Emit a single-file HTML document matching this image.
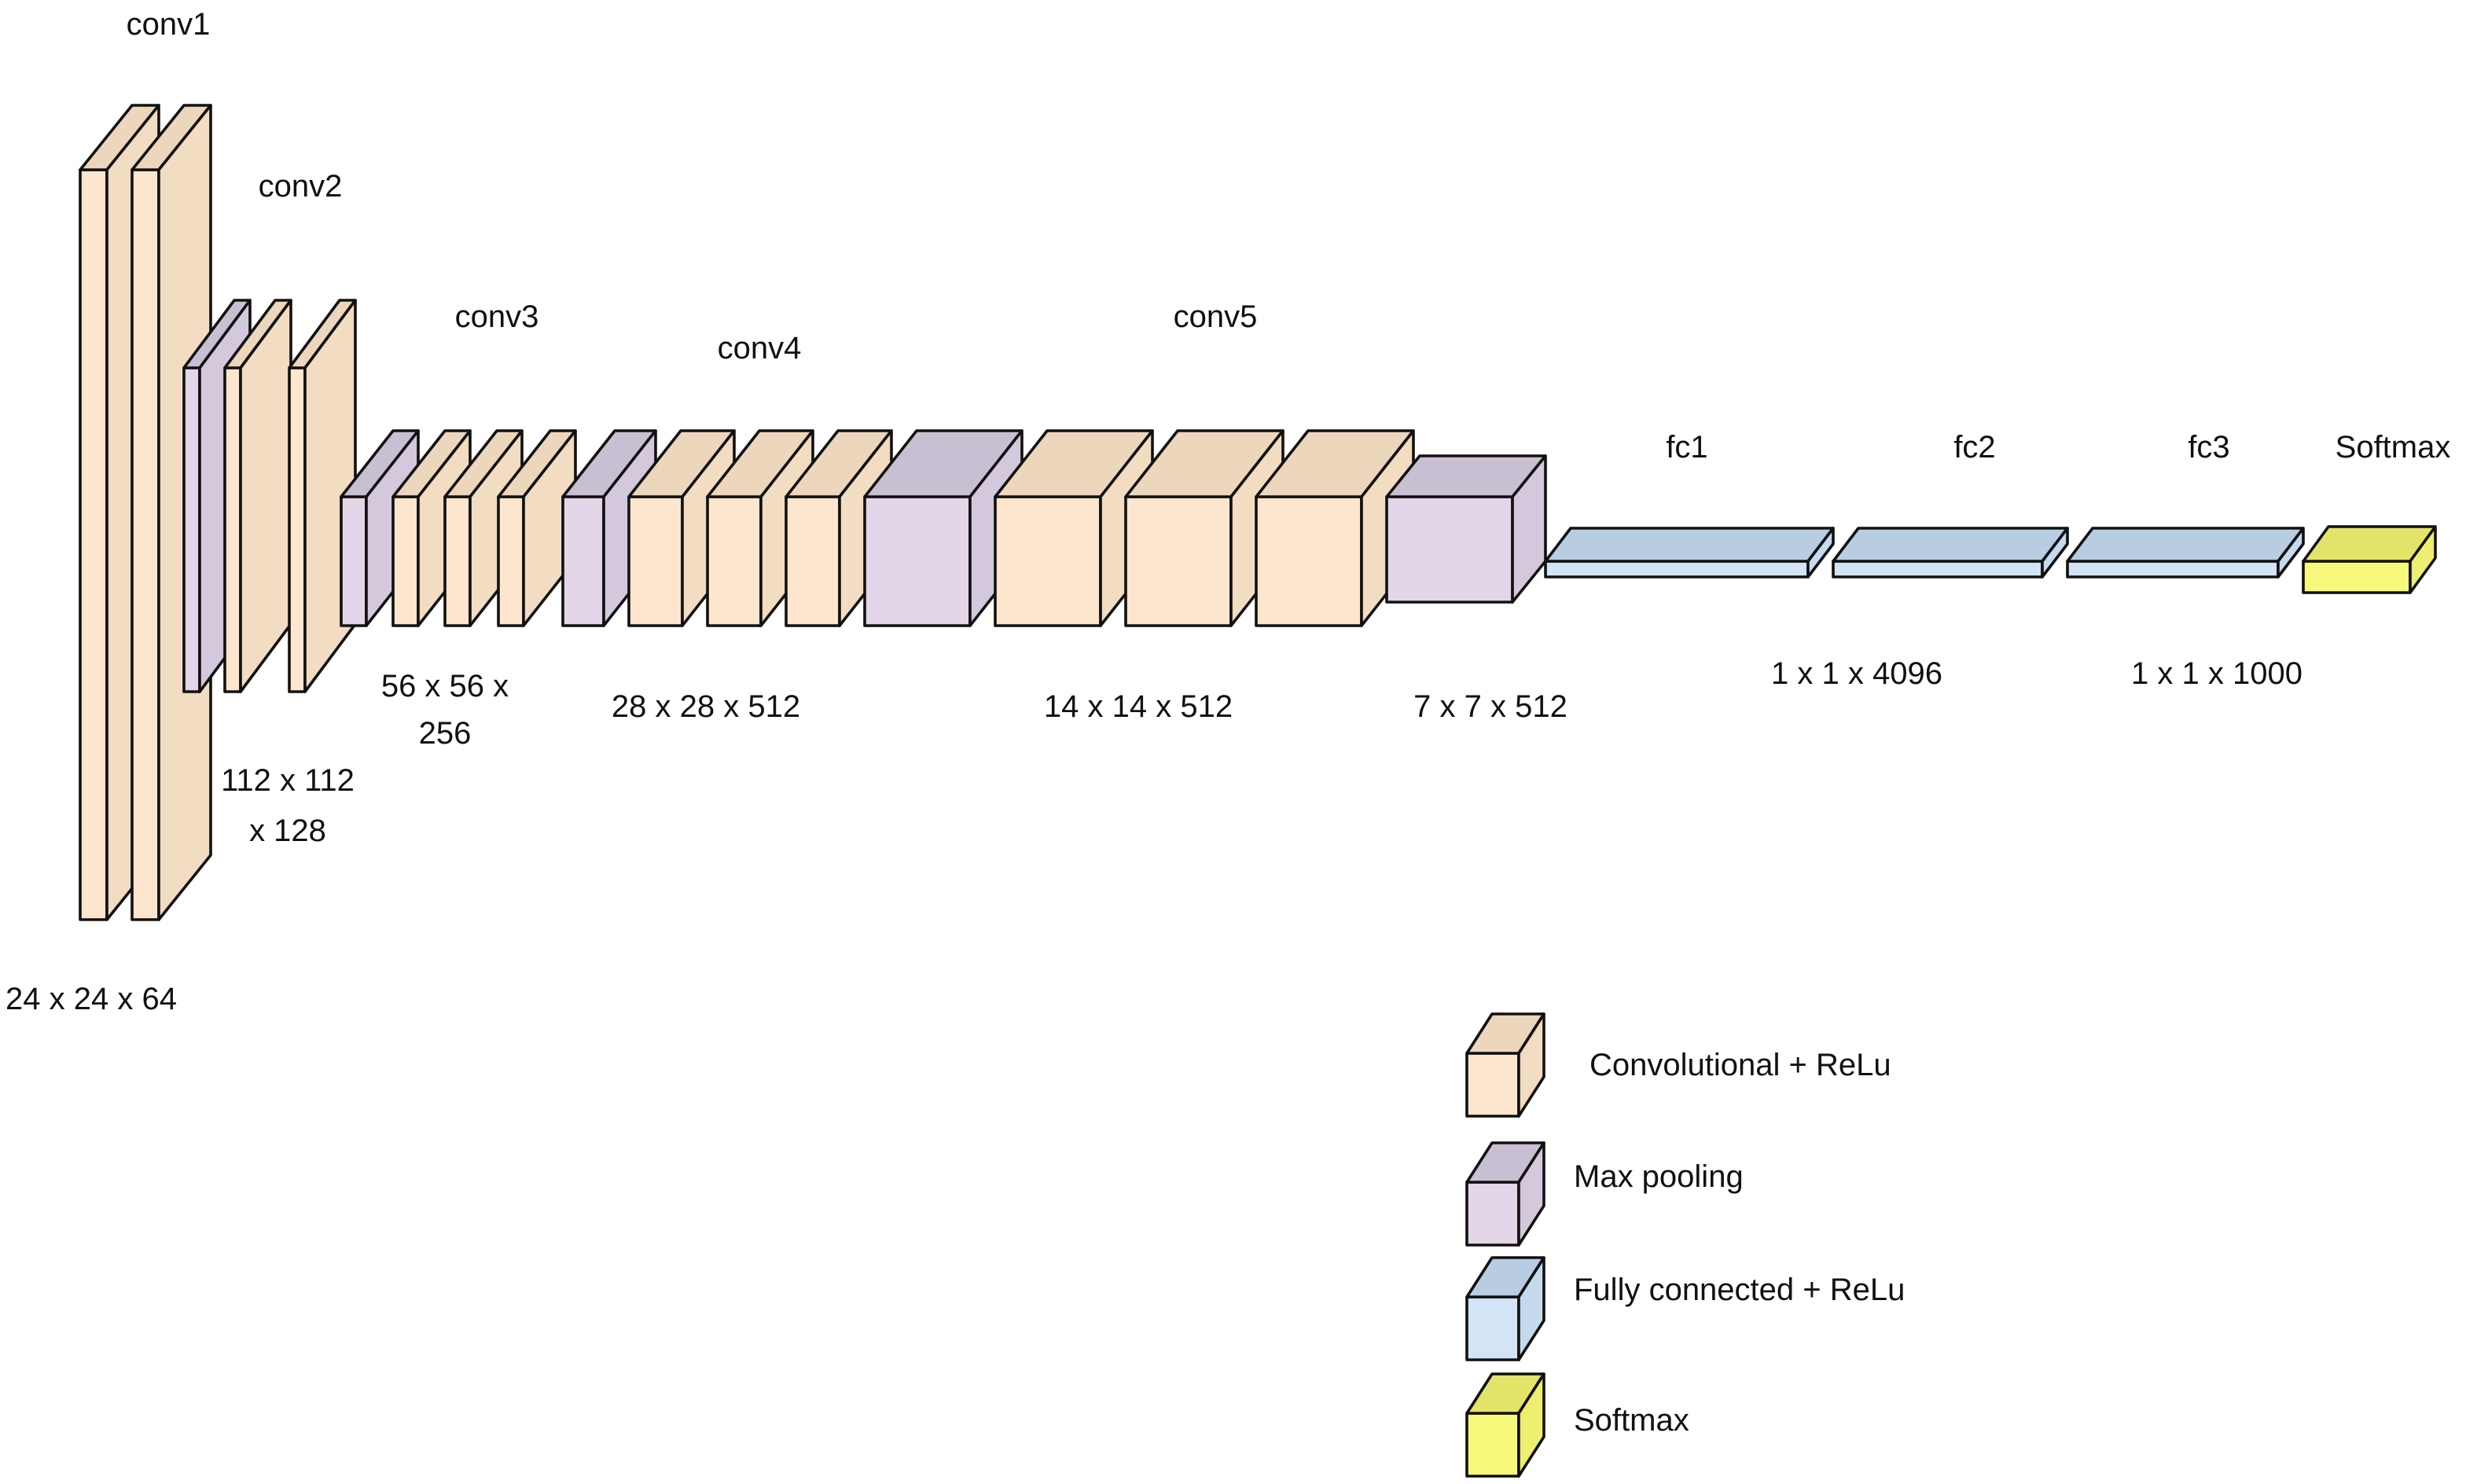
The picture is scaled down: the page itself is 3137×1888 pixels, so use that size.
<!DOCTYPE html>
<html><head><meta charset="utf-8"><style>
html,body{margin:0;padding:0;background:#fff;}
svg{display:block;}
text{font-family:"Liberation Sans",Arial,sans-serif;font-size:20px;fill:#111;text-anchor:middle;}
.c .f{fill:#fde6cd}.c .t{fill:#ecd6bc}.c .s{fill:#f2dcc2}
.p .f{fill:#e2d6e8}.p .t{fill:#c9bfd2}.p .s{fill:#d3c8dc}
.q .f{fill:#d2e4f5}.q .t{fill:#b9cde2}.q .s{fill:#c6daee}
.y .f{fill:#f8f87c}.y .t{fill:#e3e36a}.y .s{fill:#eeee70}
g polygon,g rect{stroke:#111;stroke-width:1.8;stroke-linejoin:round}
</style></head><body>
<svg width="3137" height="1888" viewBox="0 0 1568.5 944" xmlns="http://www.w3.org/2000/svg">
<g class="c"><rect class="f" x="51" y="108" width="17" height="477"/><polygon class="t" points="51,108 84,67 101,67 68,108"/><polygon class="s" points="68,108 101,67 101,544 68,585"/></g>
<g class="c"><rect class="f" x="84" y="108" width="17" height="477"/><polygon class="t" points="84,108 117,67 134,67 101,108"/><polygon class="s" points="101,108 134,67 134,544 101,585"/></g>
<g class="p"><rect class="f" x="117" y="234" width="10" height="206"/><polygon class="t" points="117,234 149,191 159,191 127,234"/><polygon class="s" points="127,234 159,191 159,397 127,440"/></g>
<g class="c"><rect class="f" x="143" y="234" width="10" height="206"/><polygon class="t" points="143,234 175,191 185,191 153,234"/><polygon class="s" points="153,234 185,191 185,397 153,440"/></g>
<g class="c"><rect class="f" x="184" y="234" width="10" height="206"/><polygon class="t" points="184,234 216,191 226,191 194,234"/><polygon class="s" points="194,234 226,191 226,397 194,440"/></g>
<g class="p"><rect class="f" x="217" y="316" width="16" height="82"/><polygon class="t" points="217,316 250,274 266,274 233,316"/><polygon class="s" points="233,316 266,274 266,356 233,398"/></g>
<g class="c"><rect class="f" x="250" y="316" width="16" height="82"/><polygon class="t" points="250,316 283,274 299,274 266,316"/><polygon class="s" points="266,316 299,274 299,356 266,398"/></g>
<g class="c"><rect class="f" x="283" y="316" width="16" height="82"/><polygon class="t" points="283,316 316,274 332,274 299,316"/><polygon class="s" points="299,316 332,274 332,356 299,398"/></g>
<g class="c"><rect class="f" x="317" y="316" width="16" height="82"/><polygon class="t" points="317,316 350,274 366,274 333,316"/><polygon class="s" points="333,316 366,274 366,356 333,398"/></g>
<g class="p"><rect class="f" x="358" y="316" width="26" height="82"/><polygon class="t" points="358,316 391,274 417,274 384,316"/><polygon class="s" points="384,316 417,274 417,356 384,398"/></g>
<g class="c"><rect class="f" x="400" y="316" width="34" height="82"/><polygon class="t" points="400,316 433,274 467,274 434,316"/><polygon class="s" points="434,316 467,274 467,356 434,398"/></g>
<g class="c"><rect class="f" x="450" y="316" width="34" height="82"/><polygon class="t" points="450,316 483,274 517,274 484,316"/><polygon class="s" points="484,316 517,274 517,356 484,398"/></g>
<g class="c"><rect class="f" x="500" y="316" width="34" height="82"/><polygon class="t" points="500,316 533,274 567,274 534,316"/><polygon class="s" points="534,316 567,274 567,356 534,398"/></g>
<g class="p"><rect class="f" x="550" y="316" width="67" height="82"/><polygon class="t" points="550,316 583,274 650,274 617,316"/><polygon class="s" points="617,316 650,274 650,356 617,398"/></g>
<g class="c"><rect class="f" x="633" y="316" width="67" height="82"/><polygon class="t" points="633,316 666,274 733,274 700,316"/><polygon class="s" points="700,316 733,274 733,356 700,398"/></g>
<g class="c"><rect class="f" x="716" y="316" width="67" height="82"/><polygon class="t" points="716,316 749,274 816,274 783,316"/><polygon class="s" points="783,316 816,274 816,356 783,398"/></g>
<g class="c"><rect class="f" x="799" y="316" width="67" height="82"/><polygon class="t" points="799,316 832,274 899,274 866,316"/><polygon class="s" points="866,316 899,274 899,356 866,398"/></g>
<g class="p"><rect class="f" x="882" y="316" width="80" height="67"/><polygon class="t" points="882,316 903,290 983,290 962,316"/><polygon class="s" points="962,316 983,290 983,357 962,383"/></g>
<g class="q"><rect class="f" x="983" y="357" width="167" height="10"/><polygon class="t" points="983,357 999,336 1166,336 1150,357"/><polygon class="s" points="1150,357 1166,336 1166,346 1150,367"/></g>
<g class="q"><rect class="f" x="1166" y="357" width="133" height="10"/><polygon class="t" points="1166,357 1182,336 1315,336 1299,357"/><polygon class="s" points="1299,357 1315,336 1315,346 1299,367"/></g>
<g class="q"><rect class="f" x="1315" y="357" width="134" height="10"/><polygon class="t" points="1315,357 1331,336 1465,336 1449,357"/><polygon class="s" points="1449,357 1465,336 1465,346 1449,367"/></g>
<g class="y"><rect class="f" x="1465" y="357" width="68" height="20"/><polygon class="t" points="1465,357 1481,335 1549,335 1533,357"/><polygon class="s" points="1533,357 1549,335 1549,355 1533,377"/></g>
<g class="c"><rect class="f" x="933" y="670" width="33" height="40"/><polygon class="t" points="933,670 949,645 982,645 966,670"/><polygon class="s" points="966,670 982,645 982,685 966,710"/></g>
<g class="p"><rect class="f" x="933" y="752" width="33" height="40"/><polygon class="t" points="933,752 949,727 982,727 966,752"/><polygon class="s" points="966,752 982,727 982,767 966,792"/></g>
<g class="q"><rect class="f" x="933" y="825" width="33" height="40"/><polygon class="t" points="933,825 949,800 982,800 966,825"/><polygon class="s" points="966,825 982,800 982,840 966,865"/></g>
<g class="y"><rect class="f" x="933" y="899" width="33" height="40"/><polygon class="t" points="933,899 949,874 982,874 966,899"/><polygon class="s" points="966,899 982,874 982,914 966,939"/></g>
<text x="107" y="22">conv1</text>
<text x="191" y="125">conv2</text>
<text x="316" y="208">conv3</text>
<text x="483" y="228">conv4</text>
<text x="773" y="208">conv5</text>
<text x="1073" y="291">fc1</text>
<text x="1256" y="291">fc2</text>
<text x="1405" y="291">fc3</text>
<text x="1522" y="291">Softmax</text>
<text x="58" y="642">24 x 24 x 64</text>
<text x="183" y="503">112 x 112</text>
<text x="183" y="535">x 128</text>
<text x="283" y="443">56 x 56 x</text>
<text x="283" y="473">256</text>
<text x="449" y="456">28 x 28 x 512</text>
<text x="724" y="456">14 x 14 x 512</text>
<text x="948" y="456">7 x 7 x 512</text>
<text x="1181" y="435">1 x 1 x 4096</text>
<text x="1410" y="435">1 x 1 x 1000</text>
<text x="1011" y="684" style="text-anchor:start">Convolutional + ReLu</text>
<text x="1001" y="755" style="text-anchor:start">Max pooling</text>
<text x="1001" y="827" style="text-anchor:start">Fully connected + ReLu</text>
<text x="1001" y="910" style="text-anchor:start">Softmax</text>
</svg>
</body></html>
